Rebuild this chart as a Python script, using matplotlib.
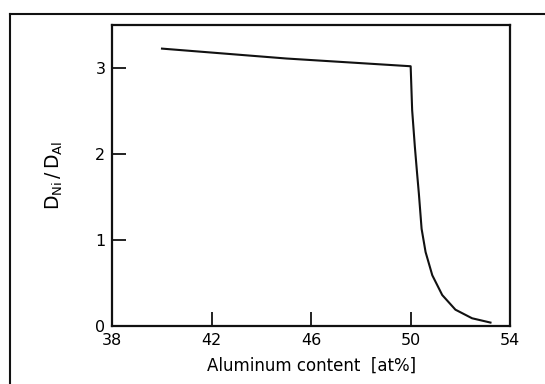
import numpy as np
import matplotlib
matplotlib.use("Agg")
import matplotlib.pyplot as plt
from matplotlib.lines import Line2D

# values
al_content = [40.0, 45.0, 50.0, 50.06, 50.17, 50.26, 50.33, 50.44, 50.60, 50.87,
              51.27, 51.80, 52.47, 53.21]
d_ratio = [3.225, 3.11, 3.02, 2.51, 2.08, 1.77, 1.54, 1.13, 0.86, 0.59,
           0.36, 0.19, 0.09, 0.04]
x_ticks = [38, 42, 46, 50, 54]
y_ticks = [0, 1, 2, 3]

plt.rcParams['font.family'] = ['DejaVu Sans']
fig = plt.figure(figsize=(5.45, 3.84), dpi=100)
ax = fig.add_axes([0.206, 0.151, 0.730, 0.784])

ax.plot(al_content, d_ratio, color="#111111", lw=1.5, solid_joinstyle="round")

ax.set_xlim(38, 54)
ax.set_ylim(0, 3.5)
ax.set_xticks(x_ticks)
ax.set_yticks(y_ticks)
ax.tick_params(direction="in", length=10, width=1.3, labelsize=11.5, color="#111111")
ax.tick_params(axis="x", pad=5)
ax.tick_params(axis="y", pad=5)
for s in ax.spines.values():
    s.set_linewidth(1.6)
    s.set_color("#111111")

ax.set_xlabel("Aluminum content  [at%]", fontsize=12, labelpad=6)
ax.set_ylabel(r"$\mathregular{D_{Ni}\,/\,D_{Al}}$", fontsize=13.5, labelpad=22)

# outer frame of the scanned figure
fig.add_artist(Line2D([0.018, 1.0], [0.9635, 0.9635], transform=fig.transFigure, color="#111111", lw=1.5))
fig.add_artist(Line2D([0.018, 0.018], [0.0, 0.9635], transform=fig.transFigure, color="#111111", lw=1.5))

fig.savefig("out.png", dpi=100)
